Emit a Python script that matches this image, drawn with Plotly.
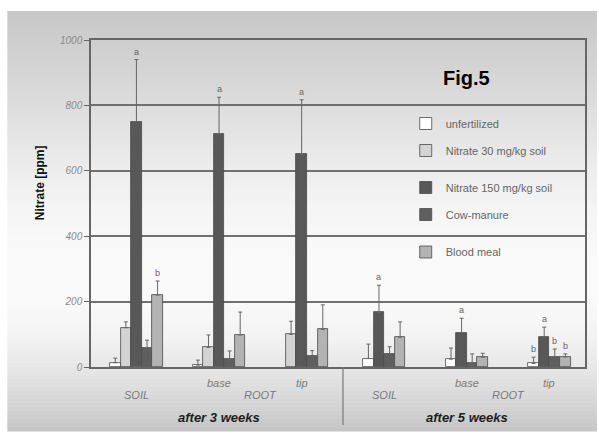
import numpy as np
import plotly.graph_objects as go

# ---------------- data ----------------
cats_3w = ["SOIL (3 weeks)", "base (3 weeks)", "tip (3 weeks)"]
cats_5w = ["SOIL (5 weeks)", "base (5 weeks)", "tip (5 weeks)"]
cat_labels = ["SOIL", "base", "tip", "SOIL", "base", "tip"]
period_labels = ["after 3 weeks", "after 5 weeks"]

series_names = ["unfertilized", "Nitrate 30 mg/kg soil", "Nitrate 150 mg/kg soil",
                "Cow-manure", "Blood meal"]

# after 3 weeks (all five treatments)
w3_unfert = [13, 6, None]
w3_unfert_err = [14, 15, None]
w3_n30 = [120, 60, 100]
w3_n30_err = [18, 38, 40]
w3_n150 = [750, 712, 650]
w3_n150_err = [190, 113, 167]
w3_cow = [59, 23, 35]
w3_cow_err = [23, 26, 15]
w3_blood = [220, 98, 115]
w3_blood_err = [43, 70, 75]

# after 5 weeks (no Nitrate 30)
w5_unfert = [26, 24, 11]
w5_unfert_err = [44, 34, 19]
w5_n150 = [167, 105, 91]
w5_n150_err = [83, 44, 31]
w5_cow = [40, 11, 30]
w5_cow_err = [22, 29, 25]
w5_blood = [91, 30, 31]
w5_blood_err = [47, 12, 9]

# significance letters
w3_letters = {"Nitrate 150 mg/kg soil": ["a", "a", "a"], "Blood meal": ["b", "", ""]}
w5_letters = {"unfertilized": ["", "", "b"], "Nitrate 150 mg/kg soil": ["a", "a", "a"],
              "Cow-manure": ["", "", "b"], "Blood meal": ["", "", "b"]}

y_ticks = [0, 200, 400, 600, 800, 1000]

# ---------------- styling ----------------
colors = {"unfertilized": "#ffffff", "Nitrate 30 mg/kg soil": "#d3d3d3",
          "Nitrate 150 mg/kg soil": "#585858", "Cow-manure": "#5f5f5f",
          "Blood meal": "#b3b3b3"}
legend_of = {"unfertilized": "legend", "Nitrate 30 mg/kg soil": "legend",
             "Nitrate 150 mg/kg soil": "legend2", "Cow-manure": "legend2",
             "Blood meal": "legend3"}
BW = 0.128  # bar width in category units

W, H = 599, 435
ML, MR, MT, MB = 91, 12, 40, 68
PW, PH = W - ML - MR, H - MT - MB

def px_x(px):
    return (px - ML) / PW

def px_y(py):
    return (H - MB - py) / PH

fig = go.Figure()

week3 = [(series_names[0], w3_unfert, w3_unfert_err), (series_names[1], w3_n30, w3_n30_err),
         (series_names[2], w3_n150, w3_n150_err), (series_names[3], w3_cow, w3_cow_err),
         (series_names[4], w3_blood, w3_blood_err)]
week5 = [(series_names[0], w5_unfert, w5_unfert_err), (series_names[2], w5_n150, w5_n150_err),
         (series_names[3], w5_cow, w5_cow_err), (series_names[4], w5_blood, w5_blood_err)]

annotations = []

def add_week(data, cats, letters, show, cat_offset):
    n = len(data)
    for i, (name, vals, errs) in enumerate(data):
        off = -n * BW / 2 + i * BW
        fig.add_trace(go.Bar(
            x=cats, y=vals, name=name, offset=off, width=BW,
            marker=dict(color=colors[name], line=dict(color="#4a4a4a", width=0.8)),
            error_y=dict(type="data", symmetric=False, array=errs,
                         arrayminus=[0] * len(errs), color="#666666",
                         thickness=1, width=2),
            legendgroup=name, showlegend=show, legend=legend_of[name],
        ))
        if name in letters:
            for k, lt in enumerate(letters[name]):
                if lt:
                    annotations.append(dict(
                        x=cat_offset + k + off + BW / 2, y=vals[k] + errs[k],
                        xref="x", yref="y", text=lt, showarrow=False,
                        xanchor="center", yanchor="bottom", yshift=1,
                        font=dict(family="Arial", size=9, color="#666666")))

add_week(week3, cats_3w, w3_letters, True, 0)
add_week(week5, cats_5w, w5_letters, False, 3)

# category labels
for k, lab in enumerate(cat_labels):
    py = 395 if lab == "SOIL" else 383
    annotations.append(dict(x=k, y=px_y(py), xref="x", yref="paper", text=lab,
                            showarrow=False, xanchor="center", yanchor="middle",
                            font=dict(family="Arial", size=11, color="#7a7a7a", style="italic")))
for xc in [1.5, 4.5]:
    annotations.append(dict(x=xc, y=px_y(395), xref="x", yref="paper", text="ROOT",
                            showarrow=False, xanchor="center", yanchor="middle",
                            font=dict(family="Arial", size=11, color="#7a7a7a", style="italic")))
for xc, lab in zip([1, 4], period_labels):
    annotations.append(dict(x=xc, y=px_y(417), xref="x", yref="paper", text=lab,
                            showarrow=False, xanchor="center", yanchor="middle",
                            font=dict(family="Arial", size=13, color="#1e1e1e",
                                      weight="bold", style="italic")))

annotations.append(dict(x=px_x(40), y=px_y(183), xref="paper", yref="paper",
                        text="Nitrate [ppm]", textangle=-90, showarrow=False,
                        xanchor="center", yanchor="middle",
                        font=dict(family="Arial", size=12, color="#111111", weight="bold")))
annotations.append(dict(x=px_x(468), y=px_y(78), xref="paper", yref="paper",
                        text="Fig.5", showarrow=False, xanchor="center", yanchor="middle",
                        font=dict(family="Arial", size=20, color="#000000", weight="bold")))

# background gradient (styling)
stops_py = [11, 60, 110, 160, 210, 260, 300, 340, 380, 410, 433]
stops_gray = [200, 210, 222, 235, 245, 250, 250, 242, 226, 210, 196]
shapes = []
edges = np.arange(11, 434, 4)
for a, b in zip(edges[:-1], edges[1:]):
    g = int(round(np.interp((a + b) / 2, stops_py, stops_gray)))
    shapes.append(dict(type="rect", xref="paper", yref="paper", layer="below",
                       x0=px_x(7), x1=px_x(599), y0=px_y(b + 0.5), y1=px_y(a),
                       line=dict(width=0), fillcolor=f"rgb({g},{g},{g})"))
# separator between periods
shapes.append(dict(type="line", xref="x", yref="paper", x0=2.5, x1=2.5,
                   y0=0, y1=px_y(425), line=dict(color="#777777", width=1.2)))

legend_common = dict(xanchor="left", yanchor="middle", bgcolor="rgba(0,0,0,0)",
                     font=dict(family="Arial", size=11, color="#666666"),
                     tracegroupgap=8, itemclick=False)

fig.update_layout(
    width=W, height=H, margin=dict(l=ML, r=MR, t=MT, b=MB),
    paper_bgcolor="#ffffff", plot_bgcolor="rgba(0,0,0,0)",
    barmode="overlay", bargap=0,
    xaxis=dict(type="category", categoryorder="array",
               categoryarray=cats_3w + cats_5w, range=[-0.55, 5.43],
               showticklabels=False, ticks="", showgrid=False,
               showline=True, linecolor="#666666", linewidth=1.5, mirror=True),
    yaxis=dict(range=[0, 1000], tickvals=y_ticks, ticks="outside", ticklen=5,
               tickcolor="#666666", showline=True, linecolor="#666666",
               linewidth=1.5, mirror=True, showgrid=True, gridcolor="#707070",
               gridwidth=1.5, zeroline=False,
               tickfont=dict(family="Arial", size=10, color="#8a8a8a", style="italic")),
    legend=dict(x=px_x(407), y=px_y(137), **legend_common),
    legend2=dict(x=px_x(407), y=px_y(201), **legend_common),
    legend3=dict(x=px_x(407), y=px_y(252), **legend_common),
    annotations=annotations, shapes=shapes, showlegend=True,
)

fig.write_html("out.html", config={"displayModeBar": False},
               post_script="document.body.style.margin='0';"
                           "document.body.style.overflow='hidden';")
